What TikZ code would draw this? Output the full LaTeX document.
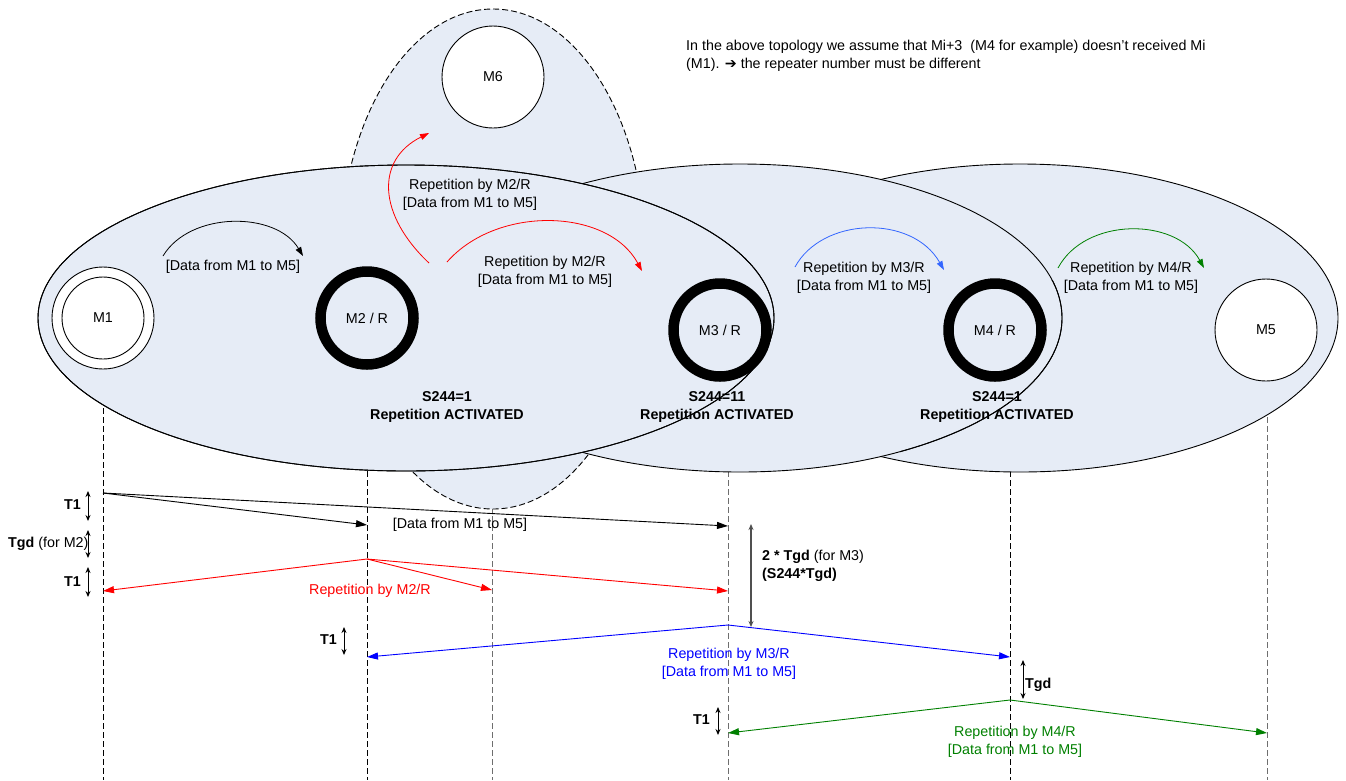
\documentclass[tikz,border=0pt]{standalone}
\usepackage{fontspec}
\setmainfont{Liberation Sans}
\newfontfamily\symfont{DejaVu Sans}
\usetikzlibrary{arrows.meta}
\definecolor{ellfill}{RGB}{230,236,246}
\definecolor{lblue}{RGB}{51,102,255}
\definecolor{dgreen}{RGB}{0,128,0}
\definecolor{lifegray}{RGB}{110,110,110}
\definecolor{durgray}{RGB}{80,80,80}
\begin{document}
\begin{tikzpicture}[x=1pt,y=-1pt, font=\fontsize{14.3}{18}\selectfont,
  ell/.style={draw=black, fill=ellfill, line width=0.9pt},
  ringnode/.style={circle, draw=black, line width=10.5pt, minimum size=93pt, inner sep=0pt},
  plainnode/.style={circle, draw=black, line width=0.9pt, fill=white, minimum size=102pt, inner sep=0pt},
  life/.style={dash pattern=on 6pt off 3pt, line width=0.9pt},
  msg/.style={line width=0.9pt, -{Triangle[length=11pt,width=7pt]}},
  curv/.style={line width=0.8pt, -{Triangle[length=9pt,width=6pt]}},
  dur/.style={line width=0.9pt, {Stealth[length=6pt,width=5pt]}-{Stealth[length=6pt,width=5pt]}},
  lbl/.style={align=center, inner sep=0pt},
  boldlbl/.style={inner sep=0pt, font=\fontsize{14.3}{18}\selectfont\bfseries},
]
\useasboundingbox (0,0) rectangle (1346,780);

% lifelines
\coordinate (L1t) at (103,300); \coordinate (L1b) at (103,780);
\coordinate (L2t) at (367,300); \coordinate (L2b) at (367,780);
\coordinate (L6t) at (492,300); \coordinate (L6b) at (492,780);
\coordinate (L3t) at (728,300); \coordinate (L3b) at (728,780);
\coordinate (L4t) at (1010,300); \coordinate (L4b) at (1010,780);
\coordinate (L5t) at (1267,300); \coordinate (L5b) at (1267,780);
\draw[life] (L1t) -- (L1b);
\draw[life] (L2t) -- (L2b);
\draw[life, lifegray] (L6t) -- (L6b);
\draw[life, lifegray] (L3t) -- (L3b);
\draw[life] (L4t) -- (L4b);
\draw[life, lifegray] (L5t) -- (L5b);

% ellipses
\draw[ell, dash pattern=on 6pt off 3pt] (493,259) ellipse [x radius=153pt, y radius=250pt];
\draw[ell] (1020,318) ellipse [x radius=318pt, y radius=154pt];
\draw[ell] (740,318) ellipse [x radius=322pt, y radius=154pt];
\draw[ell] (406,318) ellipse [x radius=368pt, y radius=153pt];

% nodes
\node[plainnode] (M1) at (103,318) {M1};
\draw[line width=0.9pt] (M1.center) circle [radius=41pt];
\node[ringnode] (M2) at (367,318) {M2 / R};
\node[ringnode] (M3) at (720,330) {M3 / R};
\node[ringnode] (M4) at (995,330) {M4 / R};
\node[plainnode] (M5) at (1266,330) {M5};
\node[plainnode] (M6) at (493,77) {M6};

% outlines over the rings
\draw[line width=0.9pt] (406,318) ellipse [x radius=368pt, y radius=153pt];
\begin{scope}
  \clip (900,280) rectangle (1080,460);
  \draw[line width=0.9pt] (740,318) ellipse [x radius=322pt, y radius=154pt];
\end{scope}

% status labels
\node[lbl, font=\fontsize{14.3}{18}\selectfont\bfseries] (s2) at (447,407) {S244=1\\Repetition ACTIVATED};
\node[lbl, font=\fontsize{14.3}{18}\selectfont\bfseries] (s3) at (717,407) {S244=11\\Repetition ACTIVATED};
\node[lbl, font=\fontsize{14.3}{18}\selectfont\bfseries] (s4) at (997,407) {S244=1\\Repetition ACTIVATED};

% curved arrows in the topology
\coordinate (c1s) at (163,256); \coordinate (c1e) at (303,256);
\draw[curv] (c1s) .. controls (190,211) and (276,211) .. (c1e);
\node[lbl] (c1l) at (233,267) {[Data from M1 to M5]};

\coordinate (c2s) at (447,262); \coordinate (c2e) at (642,271);
\draw[curv, red] (c2s) .. controls (497,205) and (608,208) .. (c2e);
\node[lbl] (c2l) at (545,272) {Repetition by M2/R\\[0pt][Data from M1 to M5]};

\coordinate (c3s) at (429,263); \coordinate (c3e) at (429,133);
\draw[curv, red] (c3s) .. controls (378,215) and (375,160) .. (c3e);
\node[lbl] (c3l) at (470,195) {Repetition by M2/R\\[0pt][Data from M1 to M5]};

\coordinate (c4s) at (795,267); \coordinate (c4e) at (944,270);
\draw[curv, lblue] (c4s) .. controls (822,217) and (912,214) .. (c4e);
\node[lbl] (c4l) at (864,278) {Repetition by M3/R\\[0pt][Data from M1 to M5]};

\coordinate (c5s) at (1058,268); \coordinate (c5e) at (1204,268);
\draw[curv, dgreen] (c5s) .. controls (1085,217) and (1176,217) .. (c5e);
\node[lbl] (c5l) at (1131,278) {Repetition by M4/R\\[0pt][Data from M1 to M5]};

% note
\node[anchor=north west, align=left, inner sep=0pt] (note) at (686,40)
  {In the above topology we assume that Mi+3\ \ (M4 for example) doesn’t received Mi\\(M1). {\symfont ➔} the repeater number must be different};

% message coordinates
\coordinate (m1a) at (103,493); \coordinate (m2a) at (367,525); \coordinate (m3a) at (728,526);
\coordinate (m2b) at (367,559); \coordinate (m1b) at (103,591); \coordinate (m6b) at (492,590); \coordinate (m3b) at (728,591);
\coordinate (m3c) at (728,625); \coordinate (m2c) at (367,657); \coordinate (m4c) at (1010,657);
\coordinate (m4d) at (1010,700); \coordinate (m3d) at (728,733); \coordinate (m5d) at (1267,733);

\draw[msg] (m1a) -- (m2a);
\draw[msg] (m1a) -- (m3a);
\node[lbl] (d1) at (460,525) {[Data from M1 to M5]};

\draw[msg, red] (m2b) -- (m1b);
\draw[msg, red] (m2b) -- (m6b);
\draw[msg, red] (m2b) -- (m3b);
\node[lbl, red] (d2) at (370,591) {Repetition by M2/R};

\draw[msg, blue] (m3c) -- (m2c);
\draw[msg, blue] (m3c) -- (m4c);
\node[lbl, blue] (d3) at (729,664) {Repetition by M3/R\\[0pt][Data from M1 to M5]};

\draw[msg, dgreen] (m4d) -- (m3d);
\draw[msg, dgreen] (m4d) -- (m5d);
\node[lbl, dgreen] (d4) at (1015,742) {Repetition by M4/R\\[0pt][Data from M1 to M5]};

% durations
\coordinate (t1a) at (88,491); \coordinate (t1b) at (88,521);
\draw[dur] (t1a) -- (t1b);
\node[boldlbl, anchor=east] (t1l) at (81,505) {T1};
\coordinate (tga) at (88,530); \coordinate (tgb) at (88,558);
\draw[dur] (tga) -- (tgb);
\node[anchor=west, inner sep=0pt] (tgl) at (8,544) {\textbf{Tgd} (for M2)};
\coordinate (t2a) at (88,567); \coordinate (t2b) at (88,597);
\draw[dur] (t2a) -- (t2b);
\node[boldlbl, anchor=east] (t2l) at (81,582) {T1};

\coordinate (gga) at (751,524); \coordinate (ggb) at (751,627);
\draw[dur, durgray, line width=1.3pt] (gga) -- (ggb);
\node[anchor=west, align=left, inner sep=0pt] (ggl) at (762,566) {\textbf{2 * Tgd} (for M3)\\\textbf{(S244*Tgd)}};

\coordinate (t3a) at (344,627); \coordinate (t3b) at (344,655);
\draw[dur] (t3a) -- (t3b);
\node[boldlbl, anchor=east] (t3l) at (337,640) {T1};

\coordinate (tha) at (1023,660); \coordinate (thb) at (1023,699);
\draw[dur] (tha) -- (thb);
\node[boldlbl, anchor=west] (thl) at (1025,685) {Tgd};

\coordinate (t4a) at (718,707); \coordinate (t4b) at (718,735);
\draw[dur] (t4a) -- (t4b);
\node[boldlbl, anchor=east] (t4l) at (710,720) {T1};
\end{tikzpicture}
\end{document}
